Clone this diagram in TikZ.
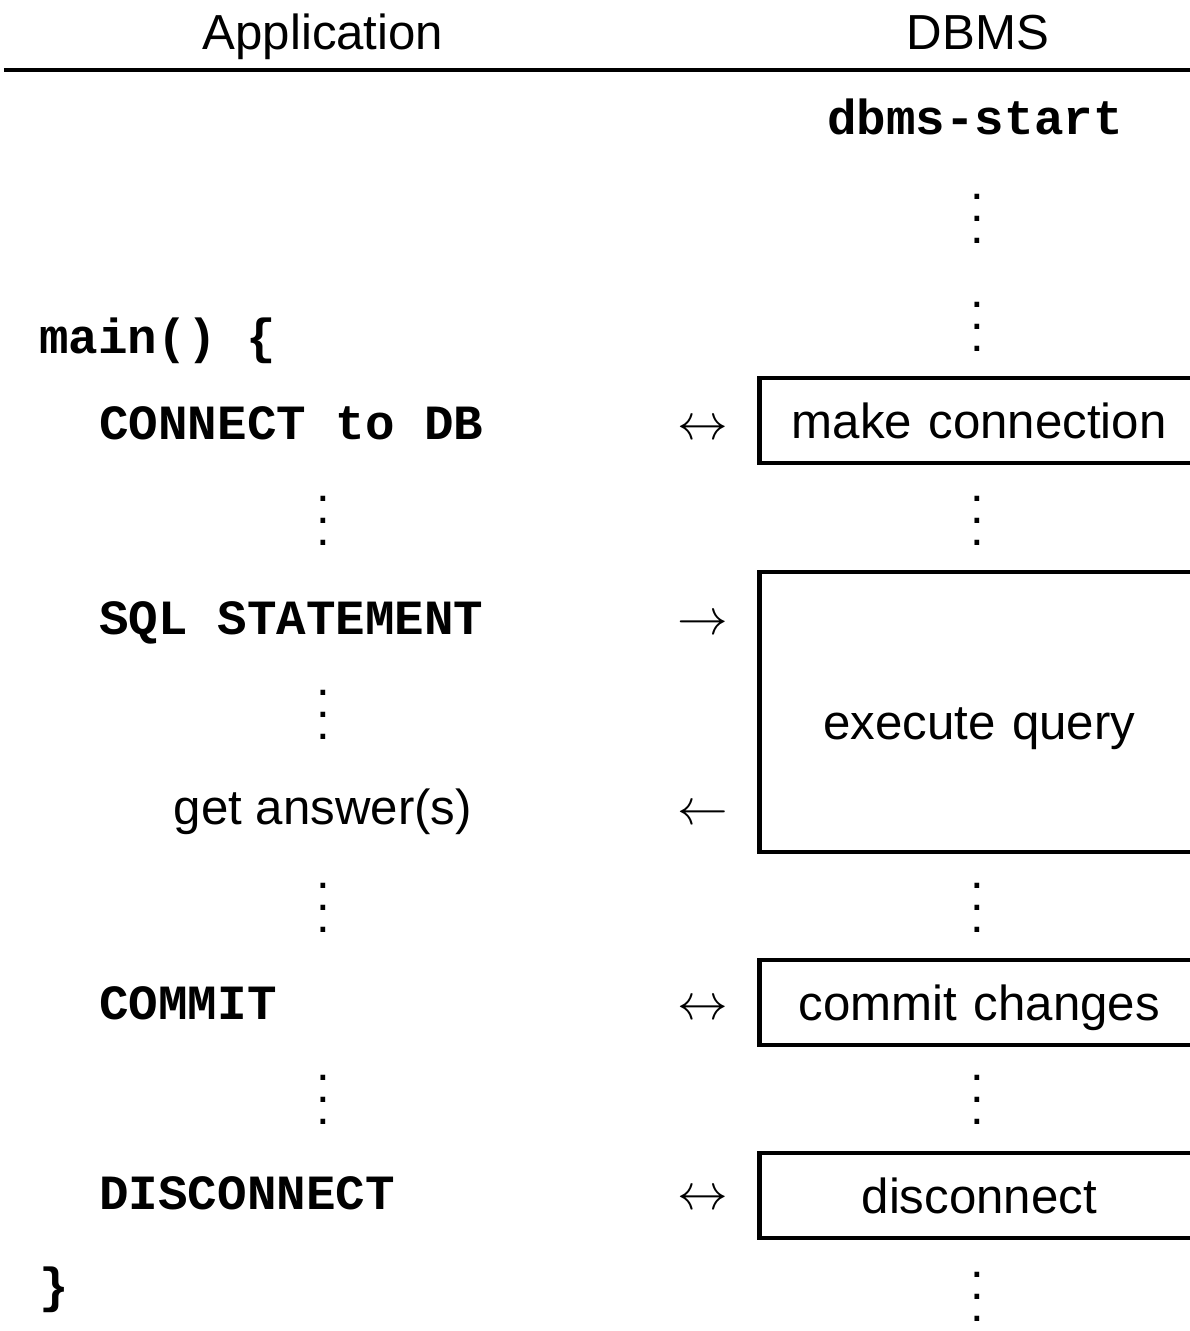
\documentclass[tikz,border=0pt]{standalone}
\usepackage{fontspec}
\setmainfont{Liberation Sans}
\setmonofont{Liberation Mono}

\newcommand{\vdotsx}{\vbox{\baselineskip=6.3pt \lineskiplimit=0pt \hbox{.}\hbox{.}\hbox{.}}}

\begin{document}
\begin{tikzpicture}[thick]

		\tikzstyle{head}=[anchor=base, inner sep=0pt, font=\fontsize{14}{17}\selectfont]
		\tikzstyle{code}=[anchor=base west, inner sep=0pt, font=\fontsize{14}{17}\selectfont\ttfamily\bfseries]
		\tikzstyle{txt}=[anchor=base, inner sep=0pt, font=\fontsize{14}{17}\selectfont]
		\tikzstyle{dots}=[inner sep=0pt, font=\fontsize{14}{17}\selectfont]
		\tikzstyle{dir}=[anchor=base, inner sep=0pt, font=\fontsize{14}{17}\selectfont]
		\tikzstyle{proc}=[rectangle, draw, line width=1.3pt, anchor=west, text width=4.4cm, align=center, inner xsep=0pt, inner ysep=0pt, minimum height=0.85cm, text height=10pt, text depth=0pt, font=\fontsize{14}{17}\selectfont]

		\useasboundingbox (0,0) rectangle (11.9,-13.31);

		\node[head] (h1) at (3.23,-0.50) {Application};
		\node[head] (h2) at (9.78,-0.50) {DBMS};
		\draw[line width=1.3pt] (0.04,-0.70) -- (11.95,-0.70);

		% application side
		\node[code] (a1) at (0.38,-3.53)  {main() \{};
		\node[code] (a2) at (0.98,-4.39)  {CONNECT to DB};
		\node[dots] (a3) at (3.23,-5.21)  {\vdotsx};
		\node[code] (a4) at (0.98,-6.34)  {SQL STATEMENT};
		\node[dots] (a5) at (3.23,-7.15)  {\vdotsx};
		\node[txt]  (a6) at (3.23,-8.24)  {get answer(s)};
		\node[dots] (a7) at (3.23,-9.08)  {\vdotsx};
		\node[code] (a8) at (0.98,-10.19) {COMMIT};
		\node[dots] (a9) at (3.23,-11.00) {\vdotsx};
		\node[code] (a10) at (0.98,-12.09) {DISCONNECT};
		\node[code] (a11) at (0.38,-13.02) {\}};

		% calls
		\node[dir] (r1) at (7.03,-4.39)  {$\leftrightarrow$};
		\node[dir] (r2) at (7.03,-6.34)  {$\rightarrow$};
		\node[dir] (r3) at (7.03,-8.24)  {$\leftarrow$};
		\node[dir] (r4) at (7.03,-10.19) {$\leftrightarrow$};
		\node[dir] (r5) at (7.03,-12.09) {$\leftrightarrow$};

		% dbms side
		\node[code, anchor=base] (d1) at (9.75,-1.35) {dbms-start};
		\node[dots] (d2) at (9.77,-2.19)  {\vdotsx};
		\node[dots] (d3) at (9.77,-3.27)  {\vdotsx};
		\node[proc] (d4) at (7.57,-4.205) {make connection};
		\node[dots] (d5) at (9.77,-5.21)  {\vdotsx};
		\node[proc, minimum height=2.80cm, text height=15.7pt] (d6) at (7.57,-7.12) {execute query};
		\node[dots] (d7) at (9.77,-9.08)  {\vdotsx};
		\node[proc] (d8) at (7.57,-10.025) {commit changes};
		\node[dots] (d9) at (9.77,-11.00) {\vdotsx};
		\node[proc] (d10) at (7.57,-11.955) {disconnect};
		\node[dots] (d11) at (9.77,-12.97) {\vdotsx};

\end{tikzpicture}
\end{document}
